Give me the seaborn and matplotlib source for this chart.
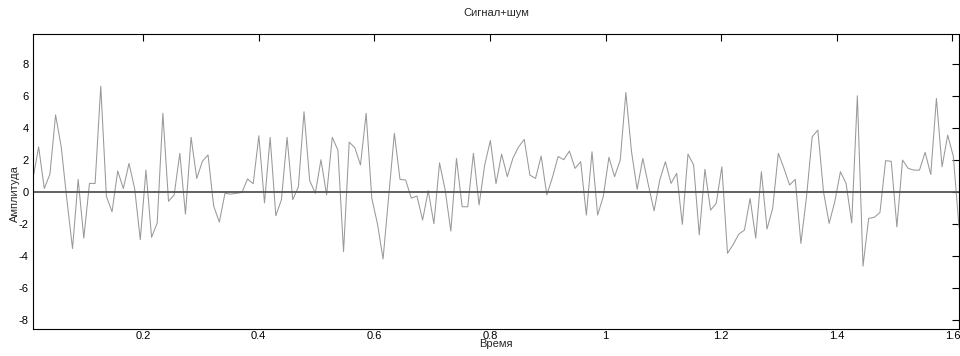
import numpy as np
import pandas as pd
import matplotlib
matplotlib.use("Agg")
import matplotlib.pyplot as plt
import seaborn as sns

# ---- data ----
fs = 102.4  # samples per second (read from spacing)
signal = [0.83, 2.8, 0.2, 1.1, 4.8, 2.8, -0.5, -3.55, 0.77, -2.9,
          0.52, 0.52, 6.6, -0.3, -1.25, 1.3, 0.2, 1.77, 0.2, -3.0,
          1.35, -2.85, -1.95, 4.9, -0.6, -0.2, 2.4, -1.4, 3.4, 0.83,
          1.9, 2.3, -0.9, -1.9, -0.1, -0.15, -0.1, -0.05, 0.8, 0.5,
          3.5, -0.7, 3.4, -1.5, -0.5, 3.4, -0.5, 0.3, 5.0, 0.7,
          -0.1, 2.0, -0.2, 3.4, 2.6, -3.75, 3.1, 2.75, 1.67, 4.9,
          -0.4, -2.0, -4.2, -0.3, 3.65, 0.77, 0.73, -0.4, -0.27, -1.77,
          0.06, -2.0, 1.8, 0.1, -2.46, 2.08, -0.94, -0.94, 2.4, -0.83,
          1.67, 3.2, 0.5, 2.35, 0.94, 2.1, 2.8, 3.27, 1.04, 0.83,
          2.23, -0.2, 0.9, 2.2, 2.0, 2.54, 1.46, 1.875, -1.46, 2.5,
          -1.46, -0.3, 2.15, 0.94, 1.98, 6.2, 2.5, 0.15, 2.08, 0.4,
          -1.2, 0.73, 1.875, 0.52, 1.15, -2.04, 2.35, 1.67, -2.7, 1.4,
          -1.15, -0.73, 1.56, -3.85, -3.3, -2.65, -2.4, -0.42, -2.9, 1.25,
          -2.33, -1.04, 2.4, 1.46, 0.42, 0.77, -3.23, -0.3, 3.44, 3.85,
          0.0, -1.98, -0.62, 1.25, 0.52, -1.95, 6.0, -4.65, -1.67, -1.6,
          -1.3, 1.94, 1.9, -2.2, 1.98, 1.46, 1.35, 1.35, 2.46, 1.08,
          5.83, 1.56, 3.54, 2.2, -2.2]
ytick_vals = [-8, -6, -4, -2, 0, 2, 4, 6, 8]
xtick_vals = [0.2, 0.4, 0.6, 0.8, 1.0, 1.2, 1.4, 1.6]
xtick_labels = ["0.2", "0.4", "0.6", "0.8", "1", "1.2", "1.4", "1.6"]
title_text = "Сигнал+шум"
xlabel_text = "Время"
ylabel_text = "Амплитуда"

t = np.arange(1, len(signal) + 1) / fs
df = pd.DataFrame({"t": t, "y": signal})

sns.set_theme(style="white")
plt.rcParams["font.family"] = ["Liberation Sans", "DejaVu Sans"]
plt.rcParams["axes.unicode_minus"] = False

fig = plt.figure(figsize=(9.6, 3.56), dpi=100)
ax = fig.add_axes([33 / 960, 1 - 329.3 / 356, 926 / 960, (329.3 - 34.3) / 356])

sns.lineplot(data=df, x="t", y="y", ax=ax, color="#999999", linewidth=0.75,
             estimator=None)
ax.axhline(0, color="#555555", linewidth=1.3)

ax.set_xlim(t[0], t[-1])
ax.set_ylim(-8.6, 9.84)
ax.set_xticks(xtick_vals)
ax.set_xticklabels(xtick_labels)
ax.set_yticks(ytick_vals)
ax.set_yticklabels([str(v) for v in ytick_vals])

ax.tick_params(direction="in", length=5, width=0.8, colors="black",
               labelsize=8, top=True, right=True, pad=3)
ax.tick_params(axis="x", pad=1)
for s in ax.spines.values():
    s.set_visible(True)
    s.set_color("black")
    s.set_linewidth(0.8)

ax.set_title(title_text, fontsize=8, pad=13)
ax.set_xlabel(xlabel_text, fontsize=8, labelpad=-1)
ax.set_ylabel(ylabel_text, fontsize=8)
ax.yaxis.set_label_coords(-0.0145, 0.46)

fig.savefig("out.png", dpi=100, facecolor="white")
